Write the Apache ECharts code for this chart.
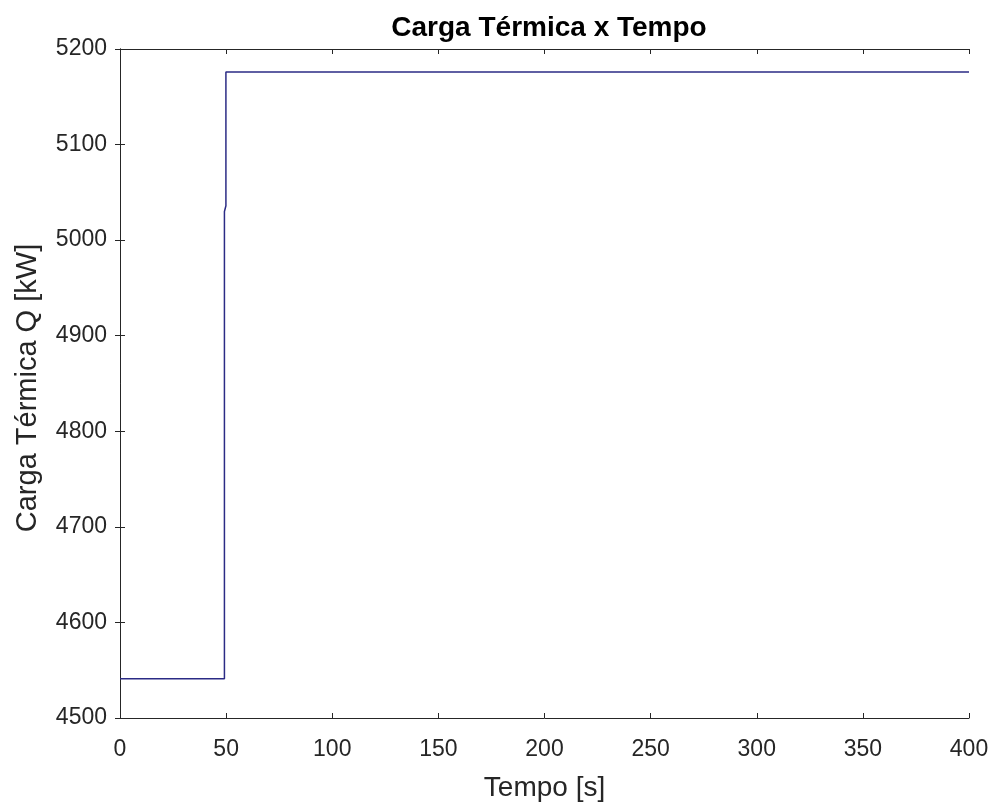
<!DOCTYPE html>
<html>
<head>
<meta charset="utf-8">
<script src="https://cdn.jsdelivr.net/npm/echarts@6/dist/echarts.min.js"></script>
<style>
  html, body { margin: 0; padding: 0; background: #fff; }
  #chart { width: 995px; height: 807px; }
</style>
</head>
<body>
<div id="chart"></div>
<script>
// tempo [s] e carga térmica [kW]
var tempo = [0, 49.2, 49.2, 49.9, 49.9, 400];
var carga = [4541, 4541, 5030, 5036, 5176, 5176];
var xTicks = [0, 50, 100, 150, 200, 250, 300, 350, 400];
var yTicks = [4500, 4600, 4700, 4800, 4900, 5000, 5100, 5200];

var pts = tempo.map(function (t, i) { return [t, carga[i]]; });

var txt = '#262626';
var fam = '"Liberation Sans", Arial, sans-serif';
var boxLine = { show: true, lineStyle: { color: '#262626', width: 1 } };
var tick = { show: true, inside: true, length: 5, lineStyle: { color: '#262626' } };
var plain = function (v) { return String(v); };

var chart = echarts.init(document.getElementById('chart'));
chart.setOption({
    animation: false,
    title: {
        text: 'Carga Térmica x Tempo',
        left: 544, top: 9, textAlign: 'center',
        textStyle: { fontFamily: fam, fontSize: 28, fontWeight: 'bold', color: '#000' }
    },
    grid: { left: 120, right: 26, top: 49, bottom: 88 },
    xAxis: [{
        type: 'value', min: xTicks[0], max: xTicks[xTicks.length - 1], interval: 50,
        name: 'Tempo [s]', nameLocation: 'middle', nameGap: 56,
        nameTextStyle: { fontFamily: fam, fontSize: 28, color: txt },
        axisLine: boxLine, axisTick: tick, splitLine: { show: false },
        axisLabel: { fontFamily: fam, fontSize: 23, color: txt, margin: 20, formatter: plain }
    }, {
        type: 'value', min: xTicks[0], max: xTicks[xTicks.length - 1], interval: 50, position: 'top',
        axisLine: boxLine, axisTick: tick, splitLine: { show: false },
        axisLabel: { show: false }
    }],
    yAxis: [{
        type: 'value', min: yTicks[0], max: yTicks[yTicks.length - 1], interval: 100,
        name: 'Carga Térmica Q [kW]', nameLocation: 'middle', nameGap: 78,
        nameTextStyle: { fontFamily: fam, fontSize: 29, color: txt, padding: [0, 9, 0, 0] },
        axisLine: boxLine, axisTick: tick, splitLine: { show: false },
        axisLabel: { fontFamily: fam, fontSize: 23, color: txt, margin: 13, formatter: plain }
    }, {
        type: 'value', min: yTicks[0], max: yTicks[yTicks.length - 1], interval: 100, position: 'right',
        axisLine: boxLine, axisTick: tick, splitLine: { show: false },
        axisLabel: { show: false }
    }],
    series: [{
        type: 'line',
        data: pts,
        showSymbol: false,
        lineStyle: { color: '#2b2b85', width: 1.5 }
    }]
});
</script>
</body>
</html>
